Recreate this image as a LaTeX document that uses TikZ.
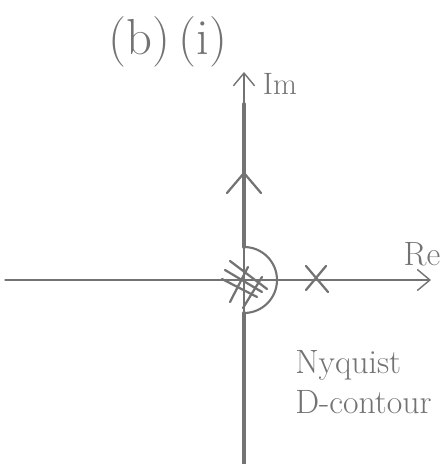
\documentclass[tikz,border=0pt]{standalone}
\usepackage{xcolor}
\usepackage{tikz}
\usetikzlibrary{positioning,arrows.meta}
\definecolor{pen}{gray}{0.45}
\begin{document}
\begin{tikzpicture}[x=0.025cm,y=0.025cm,line cap=round,
  ax/.style={draw=pen,line width=0.9pt,-{Straight Barb[length=9pt,width=15pt,line width=1pt]}},
  ctr/.style={draw=pen,line width=2.6pt},
  mk/.style={draw=pen,line width=1.6pt},
  lbl/.style={text=pen,inner sep=0pt,font=\fontsize{24}{29}\selectfont}]
\useasboundingbox (-244,-184) rectangle (202,280);
\coordinate (o) at (0,0);
\coordinate (w) at (-239,0); \coordinate (e) at (187,0);
\coordinate (s) at (0,-184); \coordinate (n) at (0,208);
\coordinate (a) at (0,-33); \coordinate (b) at (0,33); \coordinate (t) at (0,176);
% axes
\draw[ax] (w)--(e);
\draw[ax] (s)--(n);
% contour with indentation round the poles at the origin
\draw[ctr] (s)--(a);
\draw[ctr,line width=1.5pt] (a) arc[start angle=-90,end angle=90,radius=33];
\draw[ctr] (b)--(t);
\draw[ctr,line width=1.6pt] (-17,87)--(0,107)--(17,87);
% poles
\draw[mk] (-14,19)--(23,-9); \draw[mk] (-19,10)--(18,-12); \draw[mk] (-22,1)--(13,-17);
\draw[mk] (4,13)--(-14,-22); \draw[mk] (18,3)--(-1,-28);
\draw[mk] (62,14)--(84,-12); \draw[mk] (62,-10)--(82,14);
% labels
\node[lbl,font=\fontsize{22}{26}\selectfont] (im) at (36,196) {Im};
\node[lbl] (re) at (178,26) {Re};
\node[lbl,font=\fontsize{36}{40}\selectfont] (ti) at (-76,238) {(b)\,(i)};
\node[lbl,align=left,anchor=west] (ny) at (51,-102) {Nyquist\\D-contour};
\end{tikzpicture}
\end{document}
